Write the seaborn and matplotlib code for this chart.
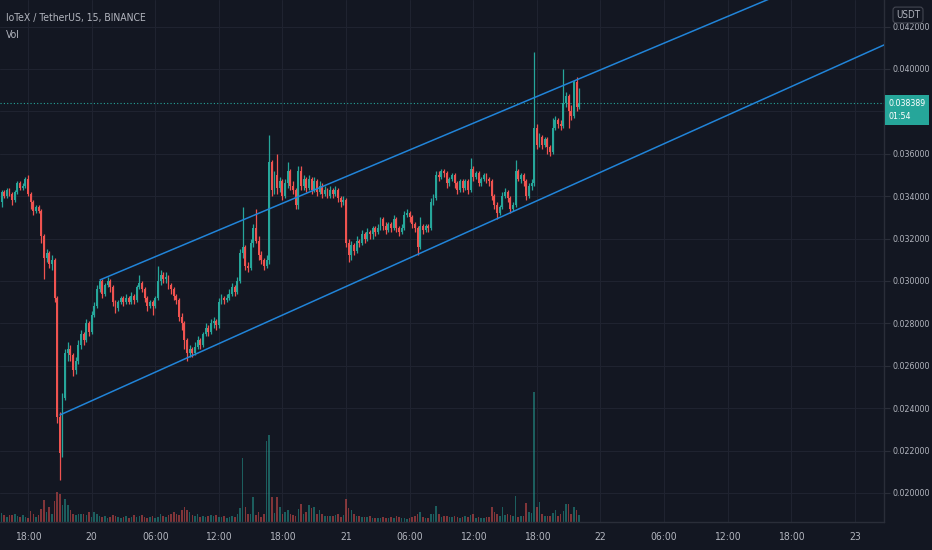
import matplotlib
matplotlib.use('Agg')
import matplotlib.pyplot as plt
import matplotlib.transforms as mtransforms
from matplotlib.ticker import FixedLocator, FuncFormatter
import numpy as np
import pandas as pd
import seaborn as sns

# ---- IOTX/USDT 15m candles, prices in units of 1e-4 USDT ----
# candle index: 0 = 19th 18:00, one step = 15 minutes
first_index = -10
first_open = 337
closes = [
    342, 340, 343, 341, 338, 342, 346, 344, 345, 348, 341,
    337, 333, 335, 333, 321, 311, 313, 308, 310, 292,
    236, 219, 245, 266, 268, 265, 258, 262, 270, 275,
    272, 280, 276, 284, 288, 296, 300, 294, 298, 300,
    297, 290, 287, 290, 292, 290, 292, 290, 293, 291,
    297, 299, 296, 292, 288, 290, 288, 292, 300, 303,
    301, 302, 298, 296, 293, 291, 283, 280, 272, 266,
    268, 266, 269, 272, 270, 275, 278, 276, 280, 281,
    279, 290, 292, 291, 292, 294, 297, 295, 300, 313,
    316, 307, 306, 318, 325, 319, 312, 310, 307, 310,
    356, 343, 350, 344, 347, 340, 346, 352, 345, 343,
    336, 352, 345, 348, 344, 348, 343, 347, 342, 345,
    341, 343, 340, 343, 341, 343, 339, 337, 338, 318,
    312, 317, 314, 319, 318, 322, 320, 323, 322, 325,
    323, 325, 329, 326, 324, 327, 325, 329, 325, 323,
    325, 331, 332, 330, 327, 325, 316, 326, 324, 326,
    325, 337, 339, 350, 349, 352, 351, 346, 348, 350,
    346, 343, 347, 344, 347, 343, 353, 349, 351, 346,
    348, 350, 348, 347, 340, 336, 332, 335, 340, 342,
    339, 334, 336, 352, 348, 350, 347, 340, 345, 346,
    372, 364, 368, 364, 367, 363, 361, 372, 376, 374,
    373, 384, 387, 380, 378, 394, 382, 383.89,
]
highs = [
    343, 343, 344, 344, 342, 343, 347, 347, 346, 349, 350,
    342, 338, 336, 336, 334, 322, 315, 314, 312, 311,
    293, 238, 247, 268, 271, 270, 266, 264, 272, 277,
    276, 282, 281, 286, 290, 298, 301, 301, 299, 302,
    301, 298, 291, 291, 293, 293, 294, 293, 295, 294,
    298, 303, 300, 297, 293, 291, 291, 293, 307, 305,
    304, 304, 303, 299, 297, 294, 292, 285, 281, 273,
    270, 269, 271, 274, 273, 276, 280, 279, 282, 283,
    282, 292, 294, 293, 294, 296, 299, 298, 302, 315,
    335, 317, 309, 320, 327, 334, 321, 314, 311, 312,
    369, 357, 352, 360, 349, 348, 348, 356, 353, 347,
    344, 354, 354, 350, 349, 350, 349, 349, 348, 347,
    346, 345, 344, 345, 344, 345, 344, 340, 340, 339,
    320, 319, 318, 321, 320, 324, 323, 325, 324, 326,
    326, 327, 330, 330, 328, 328, 328, 331, 330, 326,
    327, 333, 334, 333, 331, 328, 326, 330, 327, 327,
    327, 339, 341, 352, 352, 353, 353, 352, 349, 351,
    351, 347, 348, 348, 348, 348, 358, 354, 352, 352,
    349, 351, 351, 349, 348, 341, 337, 336, 342, 344,
    343, 340, 337, 357, 353, 351, 351, 348, 346, 348,
    408, 374, 370, 369, 368, 368, 364, 377, 378, 377,
    376, 400, 389, 388, 383, 395, 396, 391,
]
lows = [
    335, 339, 339, 340, 336, 337, 341, 343, 343, 344, 340,
    334, 331, 332, 332, 318, 301, 309, 306, 305, 290,
    233, 206, 217, 244, 262, 262, 255, 256, 261, 268,
    270, 271, 274, 275, 283, 287, 295, 292, 293, 297,
    295, 288, 285, 286, 289, 288, 289, 289, 289, 289,
    290, 296, 295, 290, 286, 287, 284, 287, 291, 298,
    299, 299, 296, 294, 291, 289, 281, 277, 268, 262,
    264, 264, 265, 268, 268, 269, 274, 274, 275, 278,
    277, 278, 289, 289, 290, 291, 293, 293, 294, 299,
    311, 305, 304, 305, 316, 318, 310, 308, 305, 306,
    308, 340, 341, 341, 342, 338, 339, 344, 343, 341,
    334, 334, 343, 343, 342, 343, 341, 342, 340, 341,
    339, 340, 339, 339, 339, 340, 337, 335, 336, 316,
    309, 310, 312, 313, 316, 317, 318, 319, 320, 320,
    321, 322, 324, 324, 322, 323, 323, 324, 323, 321,
    322, 324, 330, 328, 325, 323, 312, 315, 322, 323,
    323, 324, 336, 338, 347, 348, 349, 344, 345, 347,
    344, 341, 342, 342, 343, 341, 342, 347, 348, 345,
    345, 347, 346, 345, 338, 334, 329, 331, 334, 339,
    337, 332, 333, 335, 347, 346, 345, 338, 339, 343,
    345, 362, 363, 362, 363, 360, 359, 360, 371, 372,
    371, 372, 382, 372, 376, 377, 380, 381,
]
volumes = [
    9, 7, 5, 7, 7, 8, 6, 5, 7, 5, 4,
    11, 8, 5, 7, 13, 22, 10, 15, 8, 21,
    30, 28, 17, 23, 17, 12, 8, 7, 8, 8,
    8, 7, 10, 5, 10, 8, 6, 5, 6, 4,
    5, 7, 6, 5, 4, 5, 6, 4, 5, 7,
    5, 6, 7, 5, 4, 5, 6, 4, 5, 8,
    6, 5, 7, 8, 10, 8, 7, 12, 15, 12,
    10, 7, 6, 8, 5, 6, 5, 6, 7, 6,
    7, 5, 5, 6, 4, 5, 6, 5, 8, 14,
    64, 15, 8, 8, 25, 7, 10, 5, 8, 81,
    87, 25, 9, 25, 15, 8, 10, 12, 8, 7,
    6, 13, 18, 8, 10, 17, 14, 15, 8, 12,
    8, 6, 6, 6, 6, 7, 8, 5, 7, 23,
    14, 12, 8, 6, 6, 5, 5, 5, 6, 4,
    4, 4, 4, 5, 4, 4, 5, 4, 6, 5,
    4, 4, 3, 4, 5, 6, 8, 10, 5, 4,
    4, 8, 8, 16, 8, 5, 6, 6, 5, 5,
    6, 5, 4, 5, 6, 5, 7, 8, 4, 5,
    4, 4, 5, 5, 15, 10, 8, 6, 15, 7,
    8, 7, 6, 26, 5, 6, 6, 19, 10, 9,
    131, 15, 20, 8, 6, 6, 6, 9, 12, 6,
    8, 11, 18, 18, 8, 15, 12, 7,
]

# drawn channel (two trend lines), candle index / price
upper_line_k = [27.2, 323.0]
upper_line_p = [0.03005, 0.04557]
lower_line_k = [12.1, 323.0]
lower_line_p = [0.02368, 0.04113]

last_price = 0.038389
countdown = '01:54'
title = 'IoTeX / TetherUS, 15, BINANCE'

time_ticks = [0, 24, 48, 72, 96, 120, 144, 168, 192, 216, 240, 264, 288, 312]
time_labels = ['18:00', '20', '06:00', '12:00', '18:00', '21', '06:00', '12:00',
               '18:00', '22', '06:00', '12:00', '18:00', '23']
price_ticks = [0.020, 0.022, 0.024, 0.026, 0.028, 0.030, 0.032, 0.034, 0.036,
               0.038, 0.040, 0.042]

BG = '#131722'
GRID = '#1f2330'
BORDER = '#2a2e39'
TEXT = '#b2b5be'
UP = '#26a69a'
DOWN = '#ef5350'
LINE = '#2184d8'

sns.set_theme(style='dark', rc={
    'axes.facecolor': BG, 'figure.facecolor': BG,
    'axes.edgecolor': BORDER, 'text.color': TEXT,
    'xtick.color': TEXT, 'ytick.color': TEXT,
})
plt.rcParams['font.family'] = ['DejaVu Sans']
plt.rcParams['font.stretch'] = 'condensed'

c = np.array(closes, dtype=float) * 1e-4
h = np.array(highs, dtype=float) * 1e-4
l = np.array(lows, dtype=float) * 1e-4
o = np.concatenate([[first_open * 1e-4], c[:-1]])
k = np.arange(first_index, first_index + len(c))
vol = np.array(volumes, dtype=float)
df = pd.DataFrame({'k': k, 'open': o, 'high': h, 'low': l, 'close': c, 'vol': vol})
df['up'] = df['close'] >= df['open']
colors = np.where(df['up'], UP, DOWN)

fig = plt.figure(figsize=(9.32, 5.5), dpi=100)
ax = fig.add_axes([0, 28 / 550, 884 / 932, 522 / 550])
ax.set_facecolor(BG)

# volume overlay along the bottom of the pane
vtrans = mtransforms.blended_transform_factory(ax.transData, ax.transAxes)
ax.bar(df['k'], df['vol'] / df['vol'].max() * 0.25, bottom=0, width=0.6,
       color=colors, alpha=0.5, linewidth=0, transform=vtrans, zorder=1)

# candles
ax.vlines(df['k'], df['low'], df['high'], colors=colors, linewidth=0.9, zorder=3)
body = np.maximum((df['close'] - df['open']).abs(), 0.00003)
ax.bar(df['k'], body, bottom=np.minimum(df['open'], df['close']), width=0.72,
       color=colors, linewidth=0, zorder=4)

# channel lines
sns.lineplot(x=upper_line_k, y=upper_line_p, ax=ax, color=LINE, linewidth=1.1, zorder=5)
sns.lineplot(x=lower_line_k, y=lower_line_p, ax=ax, color=LINE, linewidth=1.1, zorder=5)

# last price line + label (the label box hides the 0.038000 tick)
ax.axhline(last_price, color=UP, linewidth=0.8, linestyle=(0, (1, 2)), zorder=2)
ax.annotate(f'{last_price:.6f}\n{countdown}', xy=(1, last_price),
            xycoords=('axes fraction', 'data'), xytext=(3, -5), textcoords='offset points',
            ha='left', va='center', color='white', fontsize=6.3, linespacing=1.7,
            bbox=dict(boxstyle='square,pad=0.4', fc=UP, ec='none'),
            annotation_clip=False, zorder=10)

ax.set_xlim(-10.57, 323.0)
ax.set_ylim(0.01863, 0.04325)

ax.xaxis.set_major_locator(FixedLocator(time_ticks))
ax.set_xticklabels(time_labels)
ax.yaxis.tick_right()
ax.yaxis.set_major_locator(FixedLocator(price_ticks))
ax.yaxis.set_major_formatter(
    FuncFormatter(lambda v, _: '' if abs(v - 0.038) < 1e-9 else f'{v:.6f}'))
ax.tick_params(axis='y', length=4, width=0.8, color=BORDER, pad=2, labelsize=6.3,
               labelcolor=TEXT)
ax.tick_params(axis='x', length=4, width=0.8, color=BORDER, pad=3, labelsize=7.5,
               labelcolor=TEXT)
ax.grid(True, color=GRID, linewidth=0.8)
ax.set_axisbelow(True)
for side in ['left', 'top']:
    ax.spines[side].set_visible(False)
for side in ['right', 'bottom']:
    ax.spines[side].set_color(BORDER)
    ax.spines[side].set_linewidth(1)
ax.set_xlabel('')
ax.set_ylabel('')

fig.text(6 / 932, 1 - 18 / 550, title, ha='left', va='center', fontsize=7.5, color=TEXT)
fig.text(6 / 932, 1 - 35 / 550, 'Vol', ha='left', va='center', fontsize=7.5, color=TEXT)
fig.text(908 / 932, 1 - 15 / 550, 'USDT', ha='center', va='center', fontsize=7,
         color=TEXT, bbox=dict(boxstyle='round,pad=0.3,rounding_size=0.3', fc=BG,
                               ec='#434651', lw=0.8), zorder=20)

fig.savefig('out.png', dpi=100, facecolor=BG)
